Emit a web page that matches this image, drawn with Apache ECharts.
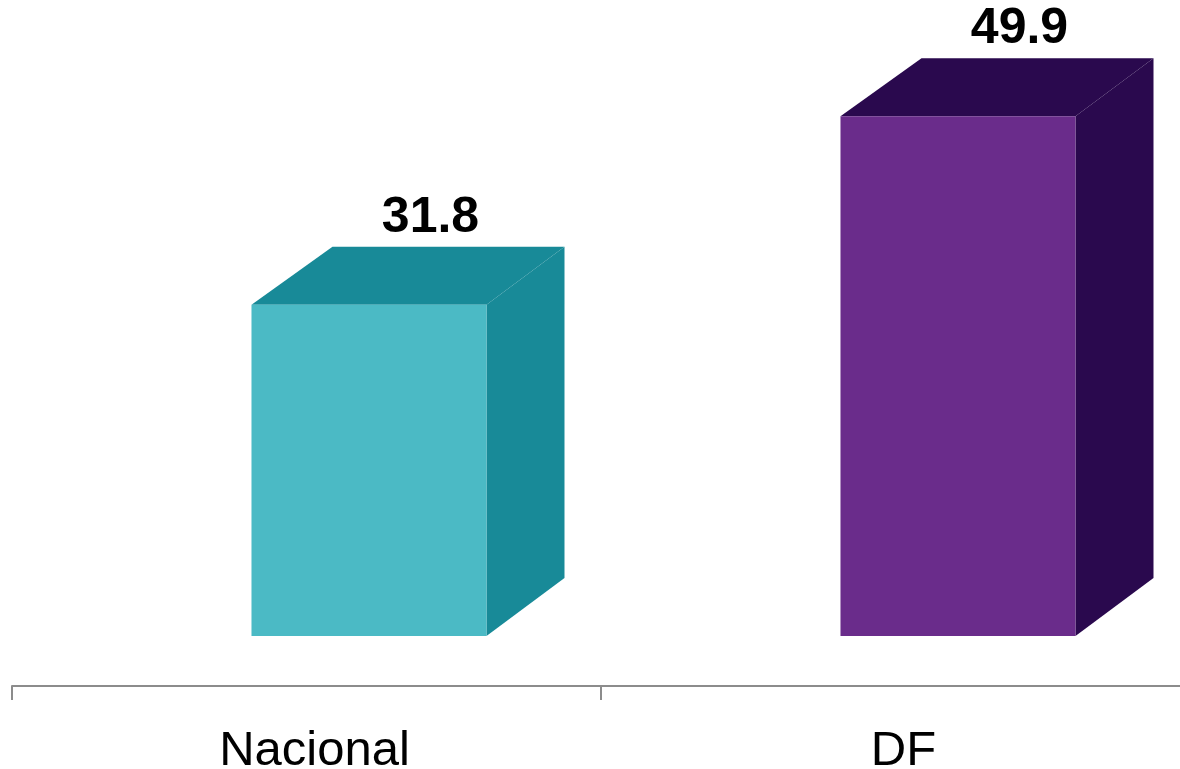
<!DOCTYPE html>
<html>
<head>
<meta charset="utf-8">
<style>
html,body{margin:0;padding:0;background:#fff;}
#chart{width:1180px;height:769px;}
</style>
<script src="https://cdn.jsdelivr.net/npm/echarts@6/dist/echarts.min.js"></script>
</head>
<body>
<div id="chart"></div>
<script>
const categories = ['Nacional', 'DF'];
const values = [31.8, 49.9];
const frontColors = ['#4BBAC5', '#6A2C8B'];
const darkColors = ['#188A98', '#2A094E'];

const chart = echarts.init(document.getElementById('chart'), null, {renderer: 'canvas'});

function renderItem(params, api) {
  const idx = params.dataIndex;
  const cat = api.value(0);
  const val = api.value(1);
  const top = api.coord([cat, val]);
  const base = api.coord([cat, 0]);
  const band = api.size([1, 0])[0];
  const x0 = top[0] - band * 0.0934;
  const x1 = top[0] + band * 0.3056;
  const yT = top[1];
  const yB = base[1];
  const dxL = 81, dxR = 78, dy = -58;
  return {
    type: 'group',
    children: [
      {
        type: 'polygon',
        shape: {points: [[x1, yT], [x1 + dxR, yT + dy], [x1 + dxR, yB + dy], [x1, yB]]},
        style: {fill: darkColors[idx]}
      },
      {
        type: 'polygon',
        shape: {points: [[x0, yT], [x0 + dxL, yT + dy], [x1 + dxR, yT + dy], [x1, yT]]},
        style: {fill: darkColors[idx]}
      },
      {
        type: 'rect',
        shape: {x: x0, y: yT, width: x1 - x0, height: yB - yT},
        style: {fill: frontColors[idx]}
      },
      {
        type: 'text',
        x: top[0] + 124,
        y: yT - 87,
        style: {
          text: val.toFixed(1),
          fill: '#000',
          font: 'bold 50px "Liberation Sans", Arial, sans-serif',
          align: 'center',
          verticalAlign: 'middle'
        }
      }
    ]
  };
}

chart.setOption({
  backgroundColor: '#fff',
  animation: false,
  grid: {left: 12, width: 1178, top: 11, height: 625, outerBoundsMode: 'none', containLabel: false},
  xAxis: {
    type: 'category',
    data: categories,
    offset: 50,
    axisLine: {show: true, onZero: false, lineStyle: {color: '#8c8c8c', width: 2}},
    axisTick: {show: true, length: 14, lineStyle: {color: '#8c8c8c', width: 2}},
    axisLabel: {
      color: '#000',
      fontSize: 49,
      fontFamily: '"Liberation Sans", Arial, sans-serif',
      margin: 41,
      padding: [0, 0, 0, 16]
    }
  },
  yAxis: {
    type: 'value',
    min: 0,
    max: 60,
    show: false,
    splitLine: {show: false}
  },
  series: [{
    type: 'custom',
    clip: false,
    renderItem: renderItem,
    data: categories.map((c, i) => [i, values[i]])
  }]
});
</script>
</body>
</html>
